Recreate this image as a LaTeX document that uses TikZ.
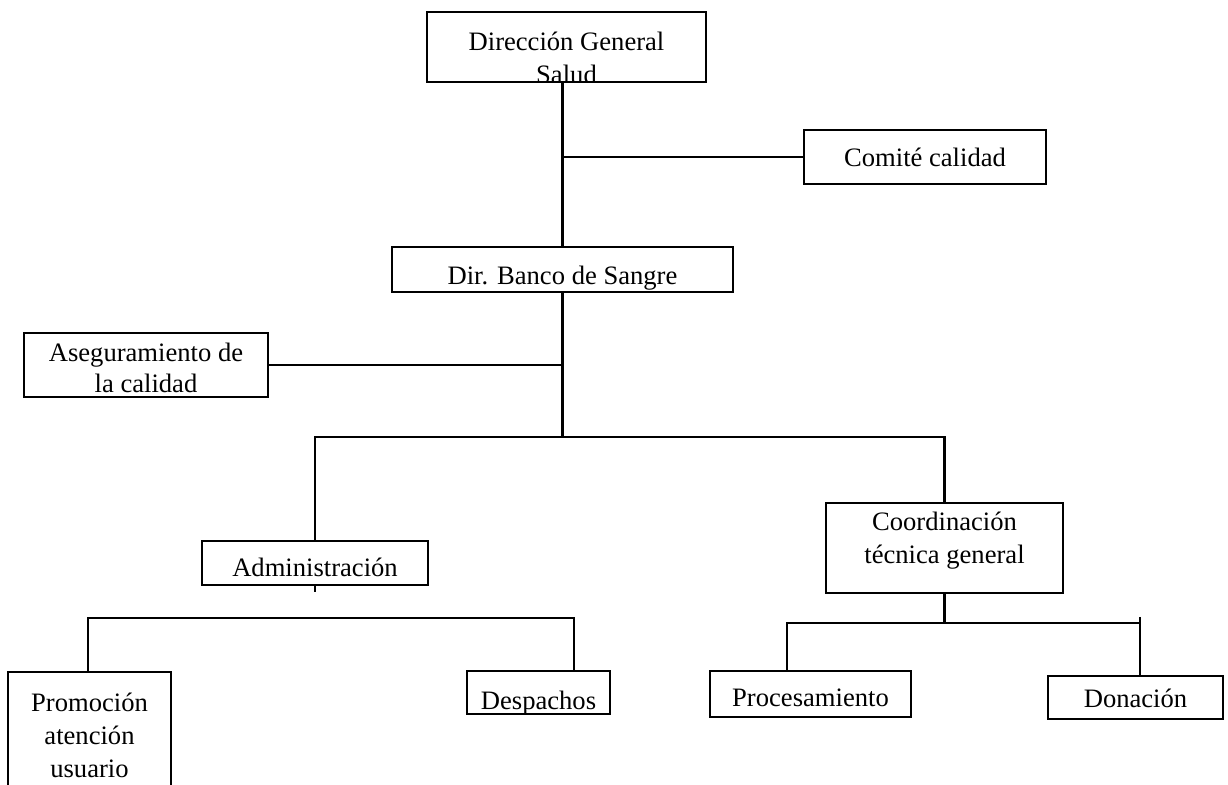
\documentclass[tikz,border=0pt]{standalone}
\usepackage{fontspec}
\setmainfont{Liberation Serif}
\newcommand{\orgfont}{\fontsize{13.3}{16.5}\selectfont}
\tikzset{
  box/.style={draw, line width=1.1pt, inner sep=0pt, align=center, font=\orgfont},
  cuttext/.style={draw=none, inner sep=0pt, font=\orgfont, anchor=base},
  link/.style={line width=1.1pt}
}
\begin{document}
\begin{tikzpicture}[x=0.5pt, y=-0.5pt]
\useasboundingbox (0,0) rectangle (1228,785);
\clip (0,0) rectangle (1228,785);

% top of the chart
\node[box, minimum width=139.5pt, minimum height=35pt, path picture={
    \node[cuttext] at ([yshift=15.5pt]path picture bounding box.south) {Dirección General};
    \node[cuttext] at ([yshift=-1pt]path picture bounding box.south) {Salud};
  }] (dirgen) at (566.5,47) {};
\node[box, minimum width=121pt, minimum height=27pt] (comite) at (925,157) {Comité calidad};
\node[box, minimum width=170.5pt, minimum height=22.5pt, path picture={
    \node[cuttext] at ([yshift=3.5pt]path picture bounding box.south) {Dir. Banco de Sangre};
  }] (banco) at (562.5,269.5) {};
\node[box, minimum width=122pt, minimum height=32pt, path picture={
    \node[cuttext] at ([yshift=17.5pt]path picture bounding box.south) {Aseguramiento de};
    \node[cuttext] at ([yshift=2pt]path picture bounding box.south) {la calidad};
  }] (aseg) at (146,365) {};

% second level
\node[box, minimum width=113pt, minimum height=22pt, path picture={
    \node[cuttext] at ([yshift=4pt]path picture bounding box.south) {Administración};
  }] (admin) at (315,563) {};
\node[box, minimum width=118.5pt, minimum height=45pt, path picture={
    \node[cuttext] at ([yshift=31pt]path picture bounding box.south) {Coordinación};
    \node[cuttext] at ([yshift=14.5pt]path picture bounding box.south) {técnica general};
  }] (coord) at (944.5,548) {};

% bottom row
\node[box, minimum width=81.5pt, minimum height=84pt, path picture={
    \node[cuttext] at ([yshift=-20pt]path picture bounding box.north) {Promoción};
    \node[cuttext] at ([yshift=-36.5pt]path picture bounding box.north) {atención};
    \node[cuttext] at ([yshift=-53pt]path picture bounding box.north) {usuario};
  }] (prom) at (89.5,756) {};
\node[box, minimum width=71.5pt, minimum height=21.5pt, path picture={
    \node[cuttext] at ([yshift=2pt]path picture bounding box.south) {Despachos};
  }] (desp) at (538.5,692.5) {};
\node[box, minimum width=100.5pt, minimum height=23pt, path picture={
    \node[cuttext] at ([yshift=5pt]path picture bounding box.south) {Procesamiento};
  }] (proc) at (810.5,694) {};
\node[box, minimum width=87.5pt, minimum height=21.5pt, path picture={
    \node[cuttext] at ([yshift=5.5pt]path picture bounding box.south) {Donación};
  }] (don) at (1135.5,697.5) {};

% connectors
\coordinate (bus) at (562.5,437);
\coordinate (abl) at (88,618);
\coordinate (abr) at (574,618);
\coordinate (cbl) at (787,623);
\coordinate (cbr) at (1140,623);
\coordinate (cbt) at (1140,617);

\draw[link] (dirgen.south -| banco.north) -- (banco.north);
\draw[link] (comite.west) -- (comite.west -| banco.north);
\draw[link] (banco.south) -- (bus);
\draw[link] (aseg.east) -- (aseg.east -| bus);
\draw[link] (admin.north) |- (bus) -| (coord.north);
\draw[link] (admin.south) -- ++(0,6);
\draw[link] (abl |- prom.north) -- (abl) -- (abr) -- (abr |- desp.north);
\draw[link] (coord.south) -- (coord.south |- cbl);
\draw[link] (cbl |- proc.north) -- (cbl) -- (cbr);
\draw[link] (cbt) -- (cbt |- don.north);
\end{tikzpicture}
\end{document}
